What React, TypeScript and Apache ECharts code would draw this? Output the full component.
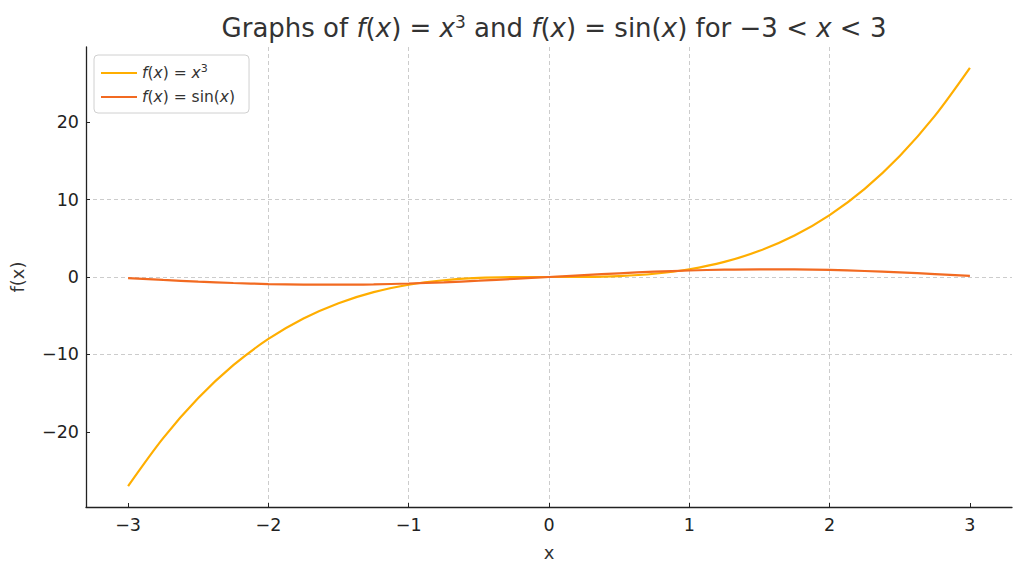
import React, { useEffect, useRef } from "react";
import * as echarts from "echarts";

const xValues = [-3, -2.75, -2.5, -2.25, -2, -1.75, -1.5, -1.25, -1, -0.75, -0.5, -0.25, 0, 0.25, 0.5, 0.75, 1, 1.25, 1.5, 1.75, 2, 2.25, 2.5, 2.75, 3];
const cubeValues = [-27, -20.8, -15.63, -11.39, -8, -5.36, -3.38, -1.95, -1, -0.42, -0.125, -0.016, 0, 0.016, 0.125, 0.42, 1, 1.95, 3.38, 5.36, 8, 11.39, 15.63, 20.8, 27];
const sinValues = [-0.141, -0.382, -0.598, -0.778, -0.909, -0.984, -0.997, -0.949, -0.841, -0.682, -0.479, -0.247, 0, 0.247, 0.479, 0.682, 0.841, 0.949, 0.997, 0.984, 0.909, 0.778, 0.598, 0.382, 0.141];
const xTicks = [-3, -2, -1, 0, 1, 2, 3];
const yTicks = [-20, -10, 0, 10, 20];
const seriesNames = ["f(x) = x^3", "f(x) = sin(x)"];

const FONT = "DejaVu Sans";
const TXT = "#333333";

export default function App() {
  const ref = useRef<HTMLDivElement>(null);
  useEffect(() => {
    if (!ref.current) return;
    const chart = echarts.init(ref.current, undefined, { renderer: "svg" });
    const minus = (v: number) => (v < 0 ? "\u2212" + Math.abs(v) : String(v));
    const titleRich = {
      n: { fontFamily: FONT, fontSize: 26, fontWeight: "normal", color: TXT, lineHeight: 30 },
      i: { fontFamily: FONT, fontSize: 26, fontWeight: "normal", color: TXT, fontStyle: "italic", lineHeight: 30 },
      s: { fontFamily: FONT, fontSize: 17, fontWeight: "normal", color: TXT, lineHeight: 18, verticalAlign: "top" },
    };
    const legRich = {
      n: { fontFamily: FONT, fontSize: 15.5, color: TXT, lineHeight: 20 },
      i: { fontFamily: FONT, fontSize: 15.5, color: TXT, fontStyle: "italic", lineHeight: 20 },
      s: { fontFamily: FONT, fontSize: 11, color: TXT, lineHeight: 11, verticalAlign: "top" },
    };
    chart.setOption({
      animation: false,
      backgroundColor: "#ffffff",
      title: {
        text: "{n|Graphs of }{i|f}{n|(}{i|x}{n|) = }{i|x}{s|3}{n| and }{i|f}{n|(}{i|x}{n|) = sin(}{i|x}{n|) for \u22123 < }{i|x}{n| < 3}",
        left: 549,
        top: 8,
        textAlign: "center",
        textStyle: { fontWeight: "normal", rich: titleRich },
      },
      legend: {
        data: seriesNames,
        orient: "vertical",
        left: 94,
        top: 55,
        padding: [8, 14, 8, 6],
        itemGap: 8,
        itemWidth: 36,
        itemHeight: 2,
        backgroundColor: "rgba(255,255,255,0.8)",
        borderColor: "#d0d0d0",
        borderWidth: 1,
        borderRadius: 4,
        formatter: (name: string) =>
          name === seriesNames[0]
            ? "{i|f}{n|(}{i|x}{n|) = }{i|x}{s|3}"
            : "{i|f}{n|(}{i|x}{n|) = sin(}{i|x}{n|)}",
        textStyle: { rich: legRich },
      },
      grid: { left: 86, right: 12, top: 47, bottom: 64, containLabel: false },
      xAxis: {
        type: "value",
        min: -3.3,
        max: 3.3,
        interval: 1,
        name: "x",
        nameLocation: "middle",
        nameGap: 36,
        nameTextStyle: { fontFamily: FONT, fontSize: 18, color: TXT },
        axisLine: { show: true, onZero: false, lineStyle: { color: "#222", width: 1.3 } },
        axisTick: { show: true, inside: true, length: 4, customValues: xTicks, lineStyle: { color: "#222" } },
        axisLabel: {
          customValues: xTicks,
          formatter: (v: number) => minus(v),
          fontFamily: FONT,
          fontSize: 17.5,
          color: "#222",
          margin: 9,
        },
        splitLine: {
          show: true,
          showMinLine: false,
          showMaxLine: false,
          lineStyle: { color: "#cccccc", type: [4, 3], width: 1 },
        },
      },
      yAxis: {
        type: "value",
        min: -29.7,
        max: 29.7,
        interval: 10,
        name: "f(x)",
        nameLocation: "middle",
        nameGap: 60,
        nameTextStyle: { fontFamily: FONT, fontSize: 18, color: TXT },
        axisLine: { show: true, onZero: false, lineStyle: { color: "#222", width: 1.3 } },
        axisTick: { show: true, inside: true, length: 4, customValues: yTicks, lineStyle: { color: "#222" } },
        axisLabel: {
          customValues: yTicks,
          formatter: (v: number) => minus(v),
          fontFamily: FONT,
          fontSize: 17.5,
          color: "#222",
          margin: 7,
        },
        splitLine: {
          show: true,
          showMinLine: false,
          showMaxLine: false,
          lineStyle: { color: "#cccccc", type: [4, 3], width: 1 },
        },
      },
      series: [
        {
          name: seriesNames[0],
          type: "line",
          data: xValues.map((x, i) => [x, cubeValues[i]]),
          smooth: 0.3,
          symbol: "none",
          lineStyle: { color: "#FFAE00", width: 2.2 },
          itemStyle: { color: "#FFAE00" },
        },
        {
          name: seriesNames[1],
          type: "line",
          data: xValues.map((x, i) => [x, sinValues[i]]),
          smooth: 0.3,
          symbol: "none",
          lineStyle: { color: "#F26A21", width: 2.2 },
          itemStyle: { color: "#F26A21" },
        },
      ],
    });
    return () => chart.dispose();
  }, []);
  return <div ref={ref} style={{ width: 1024, height: 571, position: "fixed", left: 0, top: 0 }} />;
}
